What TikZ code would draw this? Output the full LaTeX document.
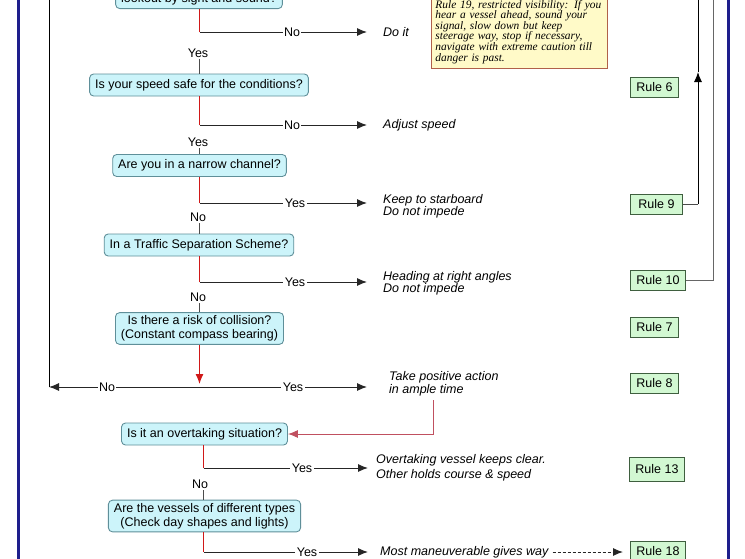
\documentclass[tikz,border=0pt]{standalone}
\usepackage{fontspec}
\setmainfont{Liberation Sans}
\newfontfamily\noteserif{Liberation Serif}
\usetikzlibrary{arrows.meta}
\definecolor{qfill}{HTML}{CCF4FA}
\definecolor{qdraw}{HTML}{5F8F99}
\definecolor{rfill}{HTML}{D2F8D2}
\definecolor{rdraw}{HTML}{3F5F3F}
\definecolor{trunk}{HTML}{D01818}
\definecolor{feed}{HTML}{C05060}
\definecolor{navyline}{HTML}{1E1E8C}
\definecolor{notefill}{HTML}{FFFAC8}
\definecolor{notedraw}{HTML}{B0604A}
\begin{document}
\begin{tikzpicture}[x=1pt,y=-1pt,
 qbox/.style={draw=qdraw, fill=qfill, rounded corners=4pt, line width=0.9pt, align=center,
   font=\fontsize{12.5}{14}\selectfont, inner xsep=5.5pt, inner ysep=3pt, minimum height=22pt},
 rulebox/.style={draw=rdraw, fill=rfill, line width=0.9pt, font=\fontsize{12.5}{14}\selectfont,
   inner xsep=6pt, inner ysep=2pt, minimum height=20pt, anchor=west},
 lbl/.style={fill=white, inner sep=1.5pt, font=\fontsize{12.5}{14}\selectfont},
 act/.style={anchor=west, align=left, inner sep=0pt, font=\fontsize{12.5}{12}\selectfont\itshape},
 trunkline/.style={draw=trunk, line width=1.2pt},
 tip/.style={-{Latex[length=10pt,width=8pt]}},
 branch/.style={draw=black!85, line width=1pt, tip},
 link/.style={draw=black!70, line width=1pt},
]
\useasboundingbox (0,0) rectangle (745,558);
\clip (0,0) rectangle (745,558);
\fill[white] (0,0) rectangle (745,558);

% frame lines
\draw[navyline, line width=3pt] (18,-5) -- (18,565);
\draw[navyline, line width=3pt] (728,-5) -- (728,565);

% question boxes
\node[qbox, anchor=south] (q0) at (199,9) {\mbox{}\\lookout by sight and sound?};
\node[qbox] (q1) at (199,85) {Is your speed safe for the conditions?};
\node[qbox] (q2) at (199.5,165.5) {Are you in a narrow channel?};
\node[qbox] (q3) at (199,245) {In a Traffic Separation Scheme?};
\node[qbox] (q4) at (199.5,328.5) {Is there a risk of collision?\\(Constant compass bearing)};
\node[qbox] (q5) at (204.5,434) {Is it an overtaking situation?};
\node[qbox] (q6) at (204.5,516) {Are the vessels of different types\\(Check day shapes and lights)};

% branch points and arrow ends
\coordinate (b0) at (199.5,32);  \coordinate (e0) at (367,32);
\coordinate (b1) at (199.5,125); \coordinate (e1) at (367,125);
\coordinate (b2) at (199.5,203); \coordinate (e2) at (367,203);
\coordinate (b3) at (199.5,282); \coordinate (e3) at (367,282);
\coordinate (b4) at (199.5,387); \coordinate (e4) at (367,387); \coordinate (l4) at (49,387);
\coordinate (b5) at (203.5,468); \coordinate (e5) at (368,468);
\coordinate (b6) at (203.5,552); \coordinate (e6) at (368,552);

% horizontal branches
\draw[branch] (b0) -- (e0);
\draw[branch] (b1) -- (e1);
\draw[branch] (b2) -- (e2);
\draw[branch] (b3) -- (e3);
\draw[branch] (b4) -- (e4);
\draw[branch] (b4) -- (l4);
\draw[branch] (b5) -- (e5);
\draw[branch] (b6) -- (e6);

% trunk (red) segments
\draw[trunkline] (q0.south -| b0) -- (b0);
\draw[trunkline] (q1.south -| b1) -- (b1);
\draw[trunkline] (q2.south -| b2) -- (b2);
\draw[trunkline] (q3.south -| b3) -- (b3);
\draw[trunkline, tip, shorten >=3pt] (q4.south -| b4) -- (b4);
\draw[trunkline] (q5.south -| b5) -- (b5);
\draw[trunkline] (q6.south -| b6) -- (b6);

\node[lbl] at (292,32) {No};
\node[lbl] at (292,125) {No};
\node[lbl] at (295,203) {Yes};
\node[lbl] at (295,282) {Yes};
\node[lbl] at (107,387) {No};
\node[lbl] at (293,387) {Yes};
\node[lbl] at (302,468) {Yes};
\node[lbl] at (307,552) {Yes};

% trunk labels and links to next box
\node[lbl, fill=none] (y0) at (198,53) {Yes};
\draw[link] (y0.south -| b0) -- (q1.north -| b0);
\node[lbl, fill=none] (y1) at (198,142) {Yes};
\draw[link] (y1.south -| b1) -- (q2.north -| b1);
\node[lbl, fill=none] (y2) at (198,217) {No};
\draw[link] (y2.south -| b2) -- (q3.north -| b2);
\node[lbl, fill=none] (y3) at (198,297) {No};
\draw[link] (y3.south -| b3) -- (q4.north -| b3);
\node[lbl, fill=none] (y5) at (200,484) {No};
\draw[link] (y5.south -| b5) -- (q6.north -| b5);

% left return line
\draw[black, line width=1pt] (l4) -- (49,-5);

% action texts
\node[act] (a0) at (383,32) {Do it};
\node[act] (a1) at (383,125) {Adjust speed};
\node[act] (a2) at (383,206) {Keep to starboard\\Do not impede};
\node[act] (a3) at (383,283) {Heading at right angles\\Do not impede};
\node[act, font=\fontsize{12.5}{13}\selectfont\itshape] (a4) at (389,383.5) {Take positive action\\in ample time};
\node[act, font=\fontsize{12.5}{15}\selectfont\itshape] (a5) at (376,467.5) {Overtaking vessel keeps clear.\\Other holds course \& speed};
\node[act] (a6) at (380,552) {Most maneuverable gives way};

% feed from positive action to overtaking question
\coordinate (f0) at (433,400);
\draw[feed, line width=1pt, tip] (f0) |- (q5.east);

% rule boxes
\node[rulebox] (r6) at (630,87) {Rule 6};
\node[rulebox, minimum width=52pt] (r9) at (630,204) {Rule 9};
\node[rulebox] (r10) at (630,280) {Rule 10};
\node[rulebox] (r7) at (630,327) {Rule 7};
\node[rulebox] (r8) at (630,383.5) {Rule 8};
\node[rulebox, minimum height=24pt] (r13) at (629,469.5) {Rule 13};
\node[rulebox] (r18) at (630,551) {Rule 18};

\draw[black!85, line width=1pt, dash pattern=on 3pt off 2pt, tip, shorten >=7pt] (a6.east) ++(4,0) coordinate (d0) -- (d0 -| r18.west);

% right side connectors
\coordinate (k9) at (698,204); \coordinate (m9) at (698,72);
\draw[link] (r9.east) -- (k9);
\draw[black, line width=1pt, tip] (k9) -- (m9);
\draw[black, line width=1pt] (m9) -- (698,-5);
\coordinate (k10) at (713,280);
\draw[black!60, line width=1pt] (r10.east) -- (k10) -- (713,-5);

% rule 19 note
\node[anchor=south west, draw=notedraw, fill=notefill, line width=0.9pt, inner xsep=4pt, inner ysep=5pt,
  text width=168pt, align=left, font=\noteserif\itshape\fontsize{11.4}{10.6}\selectfont] (note) at (431,69)
  {Rule 19, restricted visibility: If you\\hear a vessel ahead, sound your\\signal, slow down but keep\\steerage way, stop if necessary,\\navigate with extreme caution till\\danger is past.};
\end{tikzpicture}
\end{document}
